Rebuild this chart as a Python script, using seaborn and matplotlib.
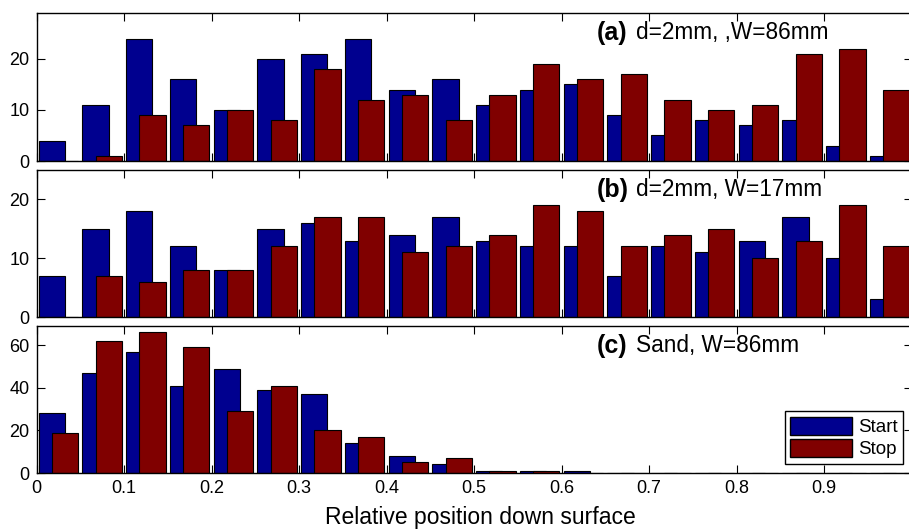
import matplotlib
matplotlib.use("Agg")
import matplotlib.pyplot as plt
import numpy as np
import pandas as pd
import seaborn as sns
from matplotlib.patches import Patch

# bin centres (bin width 0.05 over the surface)
bin_centres = np.arange(0.025, 1.0, 0.05)

# counts
start_a = [4, 11, 24, 16, 10, 20, 21, 24, 14, 16, 11, 14, 15, 9, 5, 8, 7, 8, 3, 1]
stop_a = [0, 1, 9, 7, 10, 8, 18, 12, 13, 8, 13, 19, 16, 17, 12, 10, 11, 21, 22, 14]
start_b = [7, 15, 18, 12, 8, 15, 16, 13, 14, 17, 13, 12, 12, 7, 12, 11, 13, 17, 10, 3]
stop_b = [0, 7, 6, 8, 8, 12, 17, 17, 11, 12, 14, 19, 18, 12, 14, 15, 10, 13, 19, 12]
start_c = [28, 47, 57, 41, 49, 39, 37, 14, 8, 4, 1, 1, 1, 0, 0, 0, 0, 0, 0, 0]
stop_c = [19, 62, 66, 59, 29, 41, 20, 17, 5, 7, 1, 1, 0, 0, 0, 0, 0, 0, 0, 0]

panel_tags = ["(a)", "(b)", "(c)"]
panel_texts = ["d=2mm, ,W=86mm", "d=2mm, W=17mm", "Sand, W=86mm"]
y_tops = [29, 25, 69]
y_ticks = [[0, 10, 20], [0, 10, 20], [0, 20, 40, 60]]
x_ticklabels = ["0", "0.1", "0.2", "0.3", "0.4", "0.5", "0.6", "0.7", "0.8", "0.9"]

blue = "#00008f"
red = "#800000"

sns.set_style("ticks")
plt.rcParams["font.family"] = ["Liberation Sans", "DejaVu Sans"]
plt.rcParams["text.color"] = "black"
plt.rcParams["axes.labelcolor"] = "black"

fig = plt.figure(figsize=(9.09, 5.30), dpi=100)
left, width = 36.5 / 909, 875 / 909
boxes = [(13, 161), (170, 317), (326, 473)]
axes = []
for top, bottom in boxes:
    axes.append(fig.add_axes([left, 1 - bottom / 530, width, (bottom - top) / 530]))

series = [(start_a, stop_a), (start_b, stop_b), (start_c, stop_c)]
offset = 0.0075

for i, ax in enumerate(axes):
    start, stop = series[i]
    df_start = pd.DataFrame({"pos": bin_centres - offset, "count": start})
    df_stop = pd.DataFrame({"pos": bin_centres + offset, "count": stop})
    sns.barplot(data=df_start, x="pos", y="count", native_scale=True, width=0.6,
                color=blue, saturation=1, errorbar=None, edgecolor="black",
                linewidth=0.8, ax=ax)
    sns.barplot(data=df_stop, x="pos", y="count", native_scale=True, width=0.6,
                color=red, saturation=1, errorbar=None, edgecolor="black",
                linewidth=0.8, ax=ax)
    ax.set_xlim(0, 1)
    ax.set_ylim(0, y_tops[i])
    ax.set_xticks(np.arange(0, 0.95, 0.1))
    ax.set_yticks(y_ticks[i])
    ax.set_xlabel("")
    ax.set_ylabel("")
    ax.tick_params(direction="in", top=True, right=True, length=6, width=0.8,
                   labelsize=13, colors="black", pad=5)
    for s in ax.spines.values():
        s.set_visible(True)
        s.set_linewidth(1.0)
        s.set_color("black")
    if i < 2:
        ax.set_xticklabels([])
    else:
        ax.set_xticklabels(x_ticklabels)
    ax.text(0.6406, 0.865, panel_tags[i], transform=ax.transAxes, fontsize=18,
            fontweight="bold", ha="left", va="center")
    ax.text(0.685, 0.865, panel_texts[i], transform=ax.transAxes, fontsize=16.3,
            ha="left", va="center")

axes[2].set_xlabel("Relative position down surface", fontsize=16.5)
axes[2].xaxis.label.set_verticalalignment("baseline")
axes[2].xaxis.set_label_coords(480 / 909, 1 - 524 / 530, transform=fig.transFigure)

handles = [Patch(facecolor=blue, edgecolor="black", label="Start"),
           Patch(facecolor=red, edgecolor="black", label="Stop")]
fig.legend(handles=handles, loc="lower right",
           bbox_to_anchor=(903 / 909, 1 - 464 / 530), fontsize=13.5,
           frameon=True, fancybox=False, edgecolor="black", framealpha=1,
           handlelength=3.3, handleheight=1.1, handletextpad=0.3,
           borderpad=0.3, labelspacing=0.15, borderaxespad=0)

fig.savefig("out.png", dpi=100)
